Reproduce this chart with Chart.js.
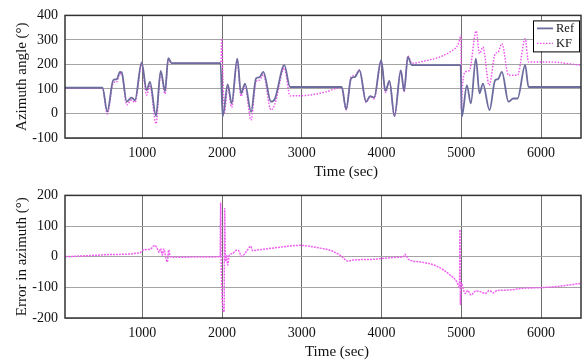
<!DOCTYPE html>
<html>
<head>
<meta charset="utf-8">
<title>Azimuth tracking</title>
<script src="https://cdn.jsdelivr.net/npm/chart.js@4/dist/chart.umd.min.js"></script>
<style>
  html, body { margin: 0; padding: 0; background: #fff; }
  #wrap { position: relative; width: 588px; height: 360px; }
  #wrap canvas { position: absolute; left: 0; }
</style>
</head>
<body>
<div id="wrap">
  <canvas id="chart-azimuth" width="588" height="180" style="top:0"></canvas>
  <canvas id="chart-error" width="588" height="180" style="top:180px"></canvas>
</div>
<script>
'use strict';

// reference azimuth (deg) against time (sec)
const refTime = [30, 500, 560, 635, 680, 719, 740, 803, 866, 907, 991, 1054, 1095, 1171, 1230, 1284, 1325, 1367,
  1980, 2007, 2070, 2120, 2190, 2237, 2287, 2363, 2425, 2470, 2517, 2613, 2663, 2780, 2852,
  3500, 3555, 3617, 3667, 3722, 3806, 3856, 3906, 3994, 4048, 4098, 4161, 4241, 4282, 4329, 4379,
  4990, 5006, 5069, 5119, 5182, 5227, 5270, 5353, 5424, 5460, 5508, 5591, 5650, 5704, 5800, 5842, 6500];
const refAngle = [105, 105, 8, 136, 140, 170, 168, 48, 65, 54, 208, 95, 129, -10, 174, 91, 226, 205,
  205, -13, 119, 41, 224, 82, 122, 7, 143, 148, 170, 48, 61, 197, 108,
  108, 17, 143, 149, 176, 48, 71, 65, 217, 92, 133, -11, 176, 92, 231, 197,
  197, -13, 115, 41, 224, 82, 122, 14, 136, 140, 170, 48, 61, 61, 197, 108, 108];

// Kalman filter estimate
const kfTime = [30, 500, 560, 635, 680, 719, 745, 803, 866, 907, 991, 1054, 1095, 1171, 1230, 1284, 1325, 1367,
  1985, 1995, 2010, 2030, 2070, 2120, 2190, 2237, 2287, 2363, 2425, 2470, 2517, 2613, 2663, 2780, 2852,
  3100, 3300, 3500, 3555, 3617, 3667, 3722, 3806, 3856, 3906, 3994, 4048, 4098, 4161, 4241, 4282, 4329, 4379,
  4550, 4734, 4850, 4964, 4995, 5000, 5010, 5050, 5100, 5186, 5227, 5270, 5349, 5424, 5460, 5508, 5591, 5704,
  5800, 5842, 6100, 6500];
const kfAngle = [103, 103, -2, 125, 130, 162, 160, 35, 55, 45, 200, 75, 115, -42, 165, 80, 220, 205,
  205, 305, 150, 5, 110, 25, 215, 70, 112, -27, 130, 136, 158, 14, 40, 185, 72,
  75, 88, 106, 15, 150, 155, 178, 45, 68, 60, 210, 85, 130, -12, 176, 88, 235, 205,
  215, 231, 250, 285, 319, 14, 95, 170, 175, 336, 244, 271, 115, 244, 250, 285, 156, 156,
  305, 210, 210, 197];

// azimuth error (deg)
const errTime = [30, 300, 600, 970, 1012, 1100, 1158, 1187, 1210, 1230, 1250, 1270, 1295, 1313, 1330, 1350, 1400,
  1700, 1975, 1982, 1988, 2025, 2032, 2040, 2055, 2070, 2090, 2130, 2170, 2200, 2245, 2300, 2358, 2380, 2476,
  2700, 2893, 2977, 3100, 3230, 3354, 3479, 3583, 3625, 3856, 4002, 4200, 4274, 4290, 4338, 4483, 4692, 4859,
  4944, 4976, 4982, 4988, 4995, 5048, 5080, 5120, 5180, 5237, 5300, 5350, 5400, 5450, 5571, 5780, 5989, 6200, 6500];
const errAzimuth = [0, 3, 7, 13, 22, 25, 37, 26, 14, 27, 5, 25, -5, -17, 22, 0, -2,
  -1, 0, 178, -20, -180, 157, -15, 5, -27, 5, 10, 20, 21, 2, 15, 34, 20, 23,
  30, 36, 37, 34, 28, 21, 5, -15, -11, -9, -6, -2, 0, 8, -9, -17, -31, -60,
  -82, -100, 88, -158, -85, -120, -110, -125, -112, -114, -120, -110, -118, -110, -109, -103, -101, -97, -87];

const xTicks = [1000, 2000, 3000, 4000, 5000, 6000];

Chart.defaults.font.family = '"Liberation Serif", "Times New Roman", serif';
Chart.defaults.font.size = 14;
Chart.defaults.color = '#111';

function toPoints(xs, ys) {
    return xs.map((x, i) => ({x: x, y: ys[i]}));
}

// box around the plotting area
const framePlugin = {
    id: 'frame',
    afterDraw(chart) {
        const {ctx, chartArea: a} = chart;
        ctx.save();
        ctx.strokeStyle = '#333';
        ctx.lineWidth = 1.5;
        ctx.strokeRect(a.left, a.top, a.right - a.left, a.bottom - a.top);
        ctx.restore();
    }
};

// x title sits a little right of the plot centre
const timeTitle = {
    id: 'timeTitle',
    afterDraw(chart, args, opts) {
        const {ctx, chartArea: a} = chart;
        ctx.save();
        ctx.font = '15px "Liberation Serif"';
        ctx.fillStyle = '#111';
        ctx.textAlign = 'center';
        ctx.textBaseline = 'middle';
        ctx.fillText(opts.text, (a.left + a.right) / 2 + opts.shift, a.bottom + 34);
        ctx.restore();
    }
};

// small boxed legend in the top right corner
const boxLegend = {
    id: 'boxLegend',
    afterDraw(chart, args, opts) {
        if (!opts.display) return;
        const {ctx, chartArea: a} = chart;
        const w = 46, h = 31;
        const x = a.right - w - 2, y = a.top + 5;
        ctx.save();
        ctx.fillStyle = '#fff';
        ctx.fillRect(x, y, w, h);
        ctx.strokeStyle = '#000';
        ctx.lineWidth = 1;
        ctx.strokeRect(x + 0.5, y + 0.5, w, h);
        ctx.font = '12.5px "Liberation Serif"';
        ctx.textBaseline = 'middle';
        chart.data.datasets.forEach((ds, i) => {
            const ly = y + 8 + i * 15;
            ctx.strokeStyle = ds.borderColor;
            ctx.lineWidth = ds.borderWidth;
            ctx.setLineDash(ds.borderDash || []);
            ctx.beginPath();
            ctx.moveTo(x + 4, ly);
            ctx.lineTo(x + 20, ly);
            ctx.stroke();
            ctx.setLineDash([]);
            ctx.fillStyle = '#111';
            ctx.fillText(ds.label, x + 23, ly);
        });
        ctx.restore();
    }
};

function axisOptions(yMin, yMax, yTitle, titleShift, showLegend) {
    return {
        responsive: false,
        animation: false,
        layout: {padding: {top: 15, right: 7, left: 0, bottom: 0}},
        elements: {point: {radius: 0}, line: {cubicInterpolationMode: 'monotone'}},
        plugins: {
            legend: {display: false},
            tooltip: {enabled: false},
            timeTitle: {text: 'Time (sec)', shift: titleShift},
            boxLegend: {display: showLegend}
        },
        scales: {
            x: {
                type: 'linear',
                min: 30,
                max: 6500,
                afterFit: s => { s.height = 42; },
                afterBuildTicks: s => {
                    s.ticks = xTicks.map(v => ({value: v}));
                },
                ticks: {padding: 7, callback: v => String(v), maxRotation: 0},
                grid: {color: '#6e6e6e', lineWidth: 1, drawTicks: false},
                border: {display: false}
            },
            y: {
                min: yMin,
                max: yMax,
                afterFit: s => { s.width = 65; },
                ticks: {stepSize: 100, padding: 7, callback: v => String(v)},
                grid: {color: '#a4a4a4', lineWidth: 1, drawTicks: false},
                border: {display: false},
                title: {
                    display: true,
                    text: yTitle,
                    font: {size: 15},
                    padding: {top: 13, bottom: 0}
                }
            }
        }
    };
}

new Chart(document.getElementById('chart-azimuth').getContext('2d'), {
    type: 'line',
    data: {
        datasets: [{
            label: 'Ref',
            data: toPoints(refTime, refAngle),
            borderColor: '#6c6c9e',
            borderWidth: 1.8,
            fill: false
        }, {
            label: 'KF',
            data: toPoints(kfTime, kfAngle),
            borderColor: '#ec50ec',
            borderWidth: 1.4,
            borderDash: [1.5, 1.5],
            fill: false
        }]
    },
    options: axisOptions(-100, 400, 'Azimuth angle (°)', 23, true),
    plugins: [framePlugin, timeTitle, boxLegend]
});

new Chart(document.getElementById('chart-error').getContext('2d'), {
    type: 'line',
    data: {
        datasets: [{
            label: 'Error',
            data: toPoints(errTime, errAzimuth),
            borderColor: '#f060f0',
            borderWidth: 1.5,
            borderDash: [2, 1],
            fill: false
        }]
    },
    options: axisOptions(-200, 200, 'Error in azimuth (°)', 14, false),
    plugins: [framePlugin, timeTitle, boxLegend]
});
</script>
</body>
</html>
